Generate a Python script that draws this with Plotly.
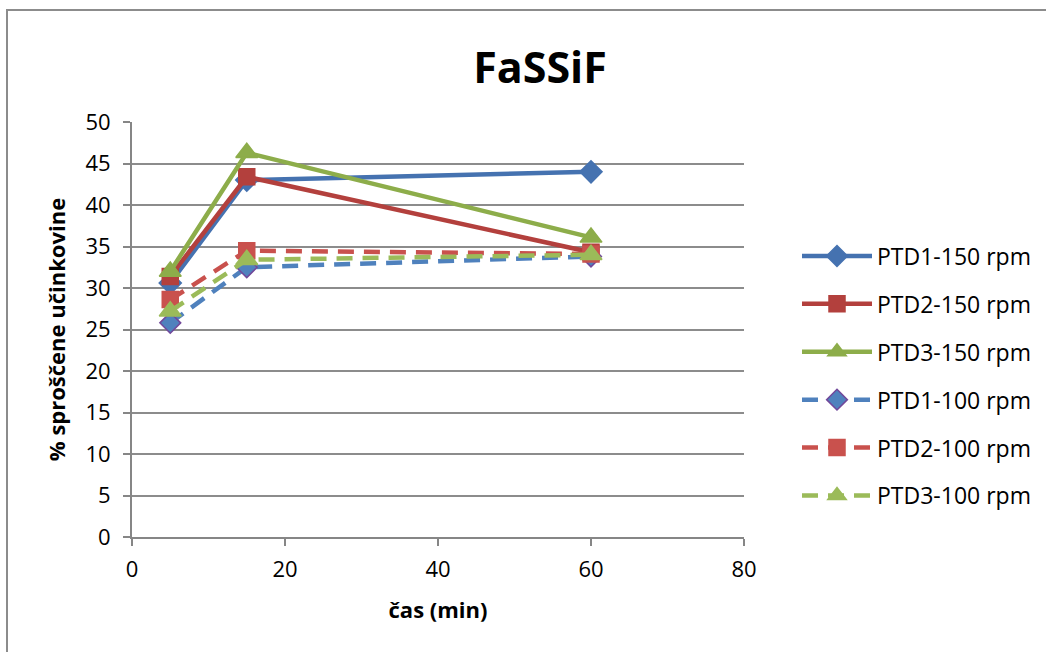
import plotly.graph_objects as go

time_min = [5, 15, 60]
ptd1_150 = [30.6, 43.0, 44.0]
ptd2_150 = [31.4, 43.4, 34.3]
ptd3_150 = [32.0, 46.3, 36.1]
ptd1_100 = [25.8, 32.5, 33.8]
ptd2_100 = [28.6, 34.5, 34.1]
ptd3_100 = [27.2, 33.4, 34.0]

names = ["PTD1-150 rpm", "PTD2-150 rpm", "PTD3-150 rpm",
         "PTD1-100 rpm", "PTD2-100 rpm", "PTD3-100 rpm"]
series = [ptd1_150, ptd2_150, ptd3_150, ptd1_100, ptd2_100, ptd3_100]

styles = [
    dict(color="#4572B0", dash="solid", symbol="diamond", size=17, mline="#4572B0"),
    dict(color="#B3403D", dash="solid", symbol="square", size=16, mline="#B3403D"),
    dict(color="#8DAD4A", dash="solid", symbol="triangle-up", size=19, mline="#8DAD4A"),
    dict(color="#4F81BD", dash="16px,10px", symbol="diamond", size=16, mline="#71489A"),
    dict(color="#C9514D", dash="16px,10px", symbol="square", size=16, mline="#C9514D"),
    dict(color="#9BBB59", dash="16px,10px", symbol="triangle-up", size=19, mline="#9BBB59"),
]

FONT = "Open Sans, Liberation Sans, sans-serif"

fig = go.Figure()
for i, (nm, ys, st) in enumerate(zip(names, series, styles)):
    fig.add_trace(go.Scatter(
        x=time_min, y=ys, name=nm, mode="lines+markers",
        legendgroup=f"g{i}",
        line=dict(color=st["color"], width=4.5, dash=st["dash"]),
        marker=dict(symbol=st["symbol"], size=st["size"], color=st["color"],
                    line=dict(color=st["mline"], width=1.5)),
    ))

L, R, T, B = 132, 302, 122, 115
W, H = 1046, 652
pw, ph = W - L - R, H - T - B

fig.update_layout(
    width=W, height=H,
    margin=dict(l=L, r=R, t=T, b=B, autoexpand=False),
    paper_bgcolor="white", plot_bgcolor="white",
    font=dict(family=FONT, size=22, color="black"),
    title=dict(text="<b>FaSSiF</b>", x=(540) / W, xanchor="center",
               y=1 - 68 / H, yanchor="middle",
               font=dict(family=FONT, size=43, color="black")),
    showlegend=True,
    legend=dict(x=(797 - L) / pw, xanchor="left", y=(537 - 376) / ph, yanchor="middle",
                font=dict(family=FONT, size=23, color="black"),
                tracegroupgap=15, itemwidth=70, bgcolor="rgba(0,0,0,0)"),
    xaxis=dict(range=[0, 80], dtick=20, tick0=0, showgrid=False, zeroline=False,
               showline=True, linecolor="#868686", linewidth=2, automargin=False,
               ticks="outside", ticklen=7, tickwidth=2, tickcolor="#868686",
               ticklabelstandoff=5,
               tickfont=dict(family=FONT, size=22, color="black"),
               title=dict(text="<b>čas (min)</b>", standoff=20,
                          font=dict(family=FONT, size=22, color="black"))),
    yaxis=dict(range=[0, 50], dtick=5, tick0=0, showgrid=True, gridcolor="#8C8C8C", gridwidth=2,
               zeroline=False, showline=True, linecolor="#868686", linewidth=2, automargin=False,
               ticks="outside", ticklen=7, tickwidth=2, tickcolor="#868686",
               ticklabelstandoff=8,
               tickfont=dict(family=FONT, size=22, color="black"),
               title=dict(text="<b>% sproščene učinkovine</b>", standoff=14,
                          font=dict(family=FONT, size=22, color="black"))),
)

# outer chart-area border (extends beyond the visible window at right and bottom)
fig.add_shape(type="rect", xref="paper", yref="paper",
              x0=(7 - L) / pw, x1=(W + 20 - L) / pw,
              y0=(537 - (H + 20)) / ph, y1=(537 - 10) / ph,
              line=dict(color="#8C8C8C", width=2), fillcolor="rgba(0,0,0,0)", layer="below")

fig.write_html("out.html")
